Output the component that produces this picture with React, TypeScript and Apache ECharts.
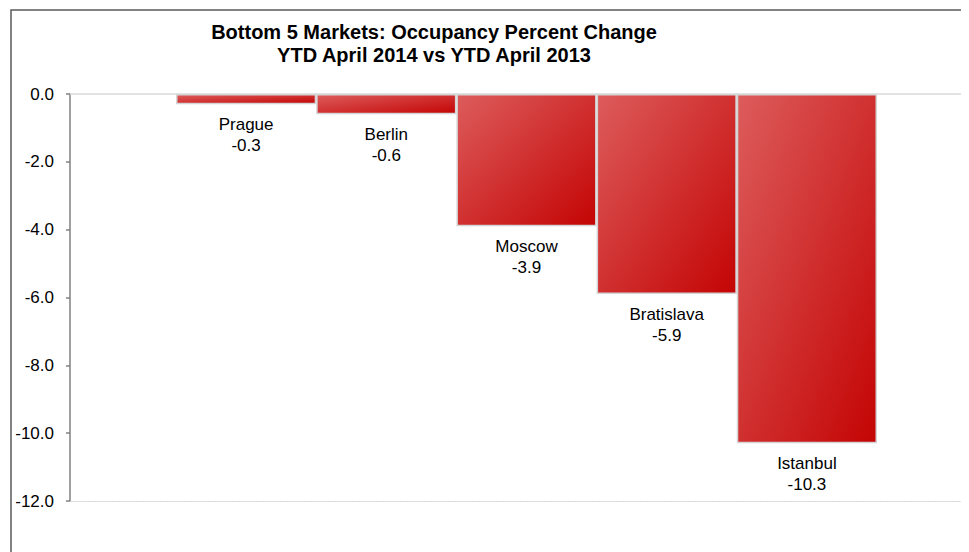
import React, { useEffect, useRef } from "react";
import * as echarts from "echarts";

const categories = ["Prague", "Berlin", "Moscow", "Bratislava", "Istanbul"];
const values = [-0.3, -0.6, -3.9, -5.9, -10.3];
const titleLines = ["Bottom 5 Markets: Occupancy Percent Change", "YTD April 2014 vs YTD April 2013"];
const yMin = -12;
const yMax = 0;
const yInterval = 2;

const FONT = "'Liberation Sans', Arial, sans-serif";

export default function App() {
  const ref = useRef<HTMLDivElement>(null);
  useEffect(() => {
    if (!ref.current) return;
    const chart = echarts.init(ref.current, null, { renderer: "svg" });
    chart.setOption({
      animation: false,
      backgroundColor: "#ffffff",
      textStyle: { fontFamily: FONT },
      graphic: [
        {
          type: "rect",
          shape: { x: 3, y: 2, width: 1200, height: 1200 },
          style: { fill: "none", stroke: "#595959", lineWidth: 1.5 },
          silent: true,
        },
        {
          type: "text",
          x: 426,
          y: 12,
          style: {
            text: titleLines.join("\n"),
            font: `bold 20px ${FONT}`,
            fill: "#000000",
            textAlign: "center",
            lineHeight: 23,
          },
        },
      ],
      grid: [
        { left: 168, right: 92, top: 86, bottom: 51 },
        { left: 62, right: 0, top: 86, bottom: 51 },
      ],
      xAxis: [
        {
          type: "category",
          gridIndex: 0,
          data: categories,
          show: false,
        },
        {
          type: "value",
          gridIndex: 1,
          position: "top",
          min: 0,
          max: 1,
          axisLine: { show: true, onZero: false, lineStyle: { color: "#d9d9d9", width: 1.5 } },
          axisTick: { show: false },
          axisLabel: { show: false },
          splitLine: { show: false },
        },
        {
          type: "value",
          gridIndex: 1,
          position: "bottom",
          min: 0,
          max: 1,
          axisLine: { show: true, onZero: false, lineStyle: { color: "#d9d9d9", width: 1, type: [2, 1] } },
          axisTick: { show: false },
          axisLabel: { show: false },
          splitLine: { show: false },
        },
      ],
      yAxis: [
        {
          type: "value",
          gridIndex: 0,
          min: yMin,
          max: yMax,
          interval: yInterval,
          offset: 106,
          axisLine: { show: true, lineStyle: { color: "#808080", width: 1.5 } },
          axisTick: { show: true, length: 4, lineStyle: { color: "#808080", width: 1.5 } },
          axisLabel: {
            margin: 16,
            fontSize: 17,
            color: "#000000",
            fontFamily: FONT,
            formatter: (v: number) => v.toFixed(1),
          },
          splitLine: { show: false },
        },
        {
          type: "value",
          gridIndex: 1,
          min: yMin,
          max: yMax,
          show: false,
        },
      ],
      series: [
        {
          type: "bar",
          xAxisIndex: 0,
          yAxisIndex: 0,
          data: values,
          barWidth: "100%",
          barCategoryGap: "0%",
          itemStyle: {
            color: new echarts.graphic.LinearGradient(0, 0, 1, 1, [
              { offset: 0, color: "#dd5c5c" },
              { offset: 1, color: "#c40404" },
            ]),
            borderColor: "#d4d4d4",
            borderWidth: 1.5,
          },
          label: {
            show: true,
            position: "bottom",
            distance: 10,
            fontSize: 17,
            lineHeight: 21,
            color: "#000000",
            fontFamily: FONT,
            formatter: (p: any) => `${p.name}\n${Number(p.value).toFixed(1)}`,
          },
        },
      ],
    });
    return () => chart.dispose();
  }, []);
  return <div ref={ref} style={{ width: 961, height: 544 }} />;
}
